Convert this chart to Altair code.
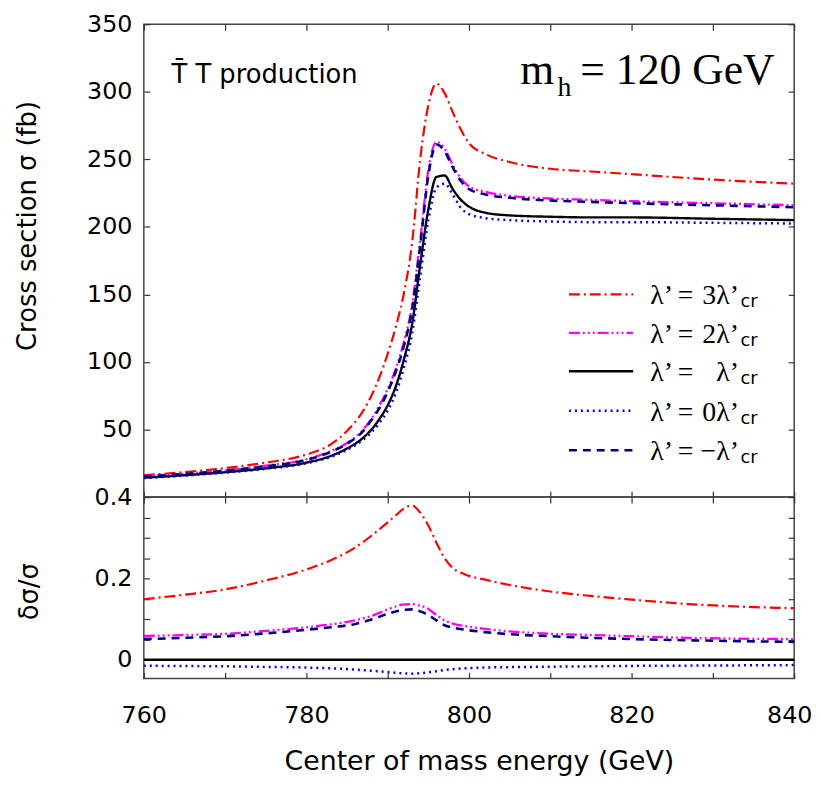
import altair as alt
import pandas as pd

# ---------------- data ----------------
series_keys = ["3", "2", "1", "0", "-1"]
series_colors = ["#ff0000", "#ff00ff", "#000000", "#0000ff", "#00007f"]
series_dashes = [[11, 4, 2, 4], [11, 3, 2, 3, 2, 3, 2, 3], [1, 0], [2, 4], [8, 6]]
series_widths = [2.2, 2.6, 2.6, 2.2, 2.4]

legend_lhs = ["λ’ =", "λ’ =", "λ’ =", "λ’ =", "λ’ ="]
legend_rhs = ["3λ’", "2λ’", "λ’", "0λ’", "−λ’"]
legend_sub = ["cr", "cr", "cr", "cr", "cr"]
legend_rows = [150.0, 121.5, 93.1, 63.9, 34.7]

energy_top = [760, 765, 770, 775, 780, 783, 785, 787, 788, 789, 790, 791, 792, 793,
              794, 795, 796, 797, 798, 799, 800, 802, 805, 810, 815, 820, 830, 840]
sigma_3 = [16.2, 18.5, 21.5, 25.5, 31.5, 39, 49, 64, 75, 89, 106, 126, 151, 188,
           250, 290, 306, 299, 285, 272, 262, 254, 248, 243, 241, 239, 235, 232]
sigma_2 = [15.5, 17.3, 19.8, 23.2, 28, 34, 40, 50, 58, 68, 80, 95, 115, 142,
           190, 242, 263, 258, 246, 236, 230, 226, 223, 221, 220, 219, 217.5, 216]
sigma_1 = [14.3, 16.2, 18.4, 21.3, 25.5, 30.5, 36, 44, 50, 58, 68, 82, 102, 128,
           172, 213, 237, 238, 228, 220, 215, 210.5, 208.5, 207.5, 207, 207, 206, 205]
sigma_0 = [14.1, 15.9, 18.1, 20.9, 25, 29.8, 35, 42.5, 48, 55, 64, 77, 96, 121,
           163, 205, 229, 232, 224, 214, 209.5, 206.5, 205, 204, 203.5, 203.5, 203, 202.5]
sigma_m1 = [15.3, 17.1, 19.5, 22.8, 27.5, 33.5, 39.5, 49, 57, 66, 78, 93, 112, 139,
            186, 238, 261, 256, 244, 234, 228, 224, 221.5, 219.5, 218.5, 217.5, 216, 214.5]

energy_low = [760, 765, 770, 775, 780, 783, 786, 788, 790, 791, 792, 793, 794, 795,
              796, 797, 798, 799.5, 802, 805, 810, 815, 820, 827, 833, 840]
delta_3 = [0.149, 0.160, 0.173, 0.195, 0.222, 0.245, 0.276, 0.305, 0.338, 0.355, 0.372,
           0.379, 0.362, 0.330, 0.288, 0.250, 0.226, 0.210, 0.197, 0.184, 0.168, 0.157,
           0.148, 0.137, 0.131, 0.127]
delta_2 = [0.0585, 0.061, 0.064, 0.071, 0.080, 0.087, 0.097, 0.108, 0.124, 0.131, 0.136,
           0.137, 0.133, 0.125, 0.110, 0.097, 0.089, 0.083, 0.076, 0.070, 0.064, 0.061,
           0.058, 0.054, 0.052, 0.051]
delta_1 = [0.0, 0.0, 0.0, 0.0, 0.0, 0.0, 0.0, 0.0, 0.0, 0.0, 0.0, 0.0, 0.0, 0.0, 0.0,
           0.0, 0.0, 0.0, 0.0, 0.0, 0.0, 0.0, 0.0, 0.0, 0.0, 0.0]
delta_0 = [-0.0146, -0.0153, -0.016, -0.0175, -0.019, -0.021, -0.024, -0.027, -0.030,
           -0.032, -0.0335, -0.034, -0.033, -0.031, -0.028, -0.025, -0.023, -0.021, -0.019,
           -0.018, -0.017, -0.016, -0.015, -0.0143, -0.0137, -0.013]
delta_m1 = [0.051, 0.054, 0.058, 0.065, 0.074, 0.080, 0.088, 0.099, 0.113, 0.119, 0.123,
            0.124, 0.119, 0.110, 0.097, 0.085, 0.079, 0.074, 0.068, 0.063, 0.058, 0.054,
            0.051, 0.048, 0.046, 0.044]

tick_x = [760, 770, 780, 790, 800, 810, 820, 830, 840]
tick_top_y = [50, 100, 150, 200, 250, 300, 350]
tick_low_y = [0, 0.05, 0.1, 0.15, 0.2, 0.25, 0.3, 0.35, 0.4]


def to_long(energy, columns, name):
    rows = []
    for key, vals in zip(series_keys, columns):
        for e, v in zip(energy, vals):
            rows.append({"E": e, name: v, "series": key})
    return pd.DataFrame(rows)


top_df = to_long(energy_top, [sigma_3, sigma_2, sigma_1, sigma_0, sigma_m1], "sigma")
low_df = to_long(energy_low, [delta_3, delta_2, delta_1, delta_0, delta_m1], "delta")
leg_df = pd.DataFrame({"series": series_keys, "row": legend_rows, "lhs": legend_lhs,
                       "rhs": legend_rhs, "sub": legend_sub})

# ---------------- scales / encodings ----------------
xs = alt.Scale(domain=[760, 840], nice=False, zero=False)
ys_top = alt.Scale(domain=[0, 350], nice=False, zero=False)
ys_low = alt.Scale(domain=[-0.046, 0.4], nice=False, zero=False)

color = alt.Color("series:N", scale=alt.Scale(domain=series_keys, range=series_colors), legend=None)
dash = alt.StrokeDash("series:N", scale=alt.Scale(domain=series_keys, range=series_dashes), legend=None)
swidth = alt.StrokeWidth("series:O", scale=alt.Scale(domain=series_keys, range=series_widths), legend=None)

SANS = "DejaVu Sans"
SERIF = "Liberation Serif"


def inward(orient, values, **kw):
    return alt.Axis(orient=orient, values=values, tickSize=6, offset=-6, domain=False,
                    grid=False, **kw)


# ---------------- top panel ----------------
top_lines = alt.Chart(top_df).mark_line(interpolate="monotone", clip=True).encode(
    x=alt.X("E:Q", scale=xs, axis=inward("bottom", tick_x, labels=False, title=None)),
    y=alt.Y("sigma:Q", scale=ys_top,
            axis=inward("left", tick_top_y, labelPadding=12,
                        title="Cross section σ  (fb)", titleX=-123, titleY=203,
                        titleBaseline="middle", titleAlign="center")),
    color=color, strokeDash=dash, strokeWidth=swidth,
)
top_mirror = alt.Chart(top_df).mark_line(opacity=0).encode(
    x=alt.X("E:Q", scale=xs, axis=inward("top", tick_x, labels=False, title=None)),
    y=alt.Y("sigma:Q", scale=ys_top, axis=inward("right", tick_top_y, labels=False, title=None)),
    detail="series:N",
)
leg_rules = alt.Chart(leg_df).mark_rule().encode(
    x=alt.XDatum(812.3, scale=xs, axis=None),
    x2=alt.X2Datum(820.2),
    y=alt.Y("row:Q", scale=ys_top, axis=None),
    color=color, strokeDash=dash, strokeWidth=swidth,
)
leg_lhs = alt.Chart(leg_df).mark_text(align="left", baseline="alphabetic", dy=10,
                                      font=SERIF, fontSize=28, color="black").encode(
    x=alt.XDatum(822.3, scale=xs, axis=None),
    y=alt.Y("row:Q", scale=ys_top, axis=None),
    text="lhs:N",
)
leg_rhs = alt.Chart(leg_df).mark_text(align="right", baseline="alphabetic", dy=10,
                                      font=SERIF, fontSize=28, color="black").encode(
    x=alt.XDatum(833.2, scale=xs, axis=None),
    y=alt.Y("row:Q", scale=ys_top, axis=None),
    text="rhs:N",
)
leg_sub = alt.Chart(leg_df).mark_text(align="left", baseline="alphabetic", dy=13,
                                      font=SANS, fontSize=18, color="black").encode(
    x=alt.XDatum(833.4, scale=xs, axis=None),
    y=alt.Y("row:Q", scale=ys_top, axis=None),
    text="sub:N",
)


def label(text, x, y, font, size, align="left"):
    return alt.Chart(pd.DataFrame({"t": [text]})).mark_text(
        align=align, baseline="alphabetic", font=font, fontSize=size, color="black"
    ).encode(
        x=alt.XDatum(x, scale=xs, axis=None),
        y=alt.YDatum(y, scale=ys_top, axis=None),
        text="t:N",
    )


ann_process = label("T\u0304 T production", 763.4, 306.5, SANS, 26)
ann_m = label("m", 806.3, 306.0, SERIF, 44)
ann_h = label("h", 810.9, 296.5, SERIF, 28)
ann_rest = label("= 120 GeV", 813.7, 306.0, SERIF, 44)

top = alt.layer(
    top_lines, top_mirror, leg_rules, leg_lhs, leg_rhs, leg_sub,
    ann_process, ann_m, ann_h, ann_rest,
).resolve_axis(x="independent", y="independent").properties(width=656, height=477)

# ---------------- lower panel ----------------
low_lines = alt.Chart(low_df).mark_line(interpolate="monotone", clip=True).encode(
    x=alt.X("E:Q", scale=xs,
            axis=inward("bottom", tick_x,
                        labelExpr="datum.value % 20 == 0 ? datum.label : ''",
                        labelPadding=25, labelFlush=False, labelOverlap=False,
                        labelOffset={"condition": {"test": "datum.value == 840", "value": -5},
                                     "value": 0},
                        title="Center of mass energy (GeV)", titleX=338, titleY=77,
                        titleBaseline="top", titleAlign="center", titleFontSize=27)),
    y=alt.Y("delta:Q", scale=ys_low,
            axis=inward("left", tick_low_y, format=".1~f",
                        labelExpr="(datum.value == 0 || datum.value == 0.2 || datum.value == 0.4) ? datum.label : ''",
                        labelPadding=12, labelOverlap=False,
                        title="δσ/σ", titleX=-121, titleY=95,
                        titleBaseline="middle", titleAlign="center")),
    color=color, strokeDash=dash, strokeWidth=swidth,
)
low_mirror = alt.Chart(low_df).mark_line(opacity=0).encode(
    x=alt.X("E:Q", scale=xs, axis=inward("top", tick_x, labels=False, title=None)),
    y=alt.Y("delta:Q", scale=ys_low, axis=inward("right", tick_low_y, labels=False, title=None)),
    detail="series:N",
)
low = alt.layer(low_lines, low_mirror).resolve_axis(
    x="independent", y="independent").properties(width=656, height=183)

chart = alt.vconcat(top, low, spacing=0, bounds="flush").properties(
    padding={"left": 6, "top": 0, "right": 0, "bottom": 0}
).configure_view(
    stroke="#444444", strokeWidth=1.5
).configure_axis(
    labelFont=SANS, labelFontSize=24, labelColor="black",
    titleFont=SANS, titleFontSize=26, titleFontWeight="normal", titleColor="black",
    tickColor="#333333", tickWidth=1.2,
)

chart.save("out.html", embed_options={"renderer": "svg", "actions": False})
